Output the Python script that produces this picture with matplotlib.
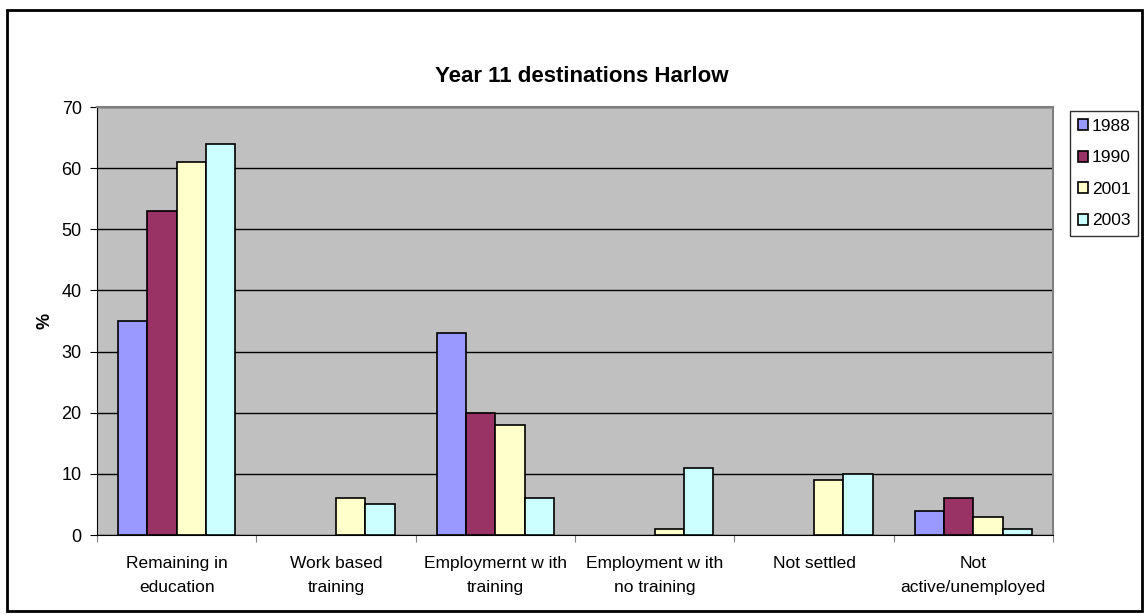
import matplotlib
matplotlib.use("Agg")
import matplotlib.pyplot as plt
from matplotlib.patches import Rectangle
import numpy as np

plt.rcParams['font.family'] = ['Liberation Sans', 'DejaVu Sans']

categories = ["Remaining in\neducation", "Work based\ntraining", "Employmernt w ith\ntraining",
              "Employment w ith\nno training", "Not settled", "Not\nactive/unemployed"]
series_names = ["1988", "1990", "2001", "2003"]
v1988 = [35, 0, 33, 0, 0, 4]
v1990 = [53, 0, 20, 0, 0, 6]
v2001 = [61, 6, 18, 1, 9, 3]
v2003 = [64, 5, 6, 11, 10, 1]
values = [v1988, v1990, v2001, v2003]
colors = ["#9999FF", "#993366", "#FFFFCC", "#CCFFFF"]
yticks = [0, 10, 20, 30, 40, 50, 60, 70]

W, H = 1148, 615
fig = plt.figure(figsize=(W / 100, H / 100), dpi=100)
ax = fig.add_axes([97 / W, 1 - 535 / H, (1053 - 97) / W, (535 - 107) / H])
ax.set_facecolor("#C0C0C0")

x = np.arange(len(categories))
bw = 0.184
handles = []
for i, (name, vals, c) in enumerate(zip(series_names, values, colors)):
    offs = (i - 1.5) * bw
    b = ax.bar(x + offs, vals, width=bw, color=c, edgecolor="black", linewidth=1.2,
               label=name, zorder=3)
    for rect, v in zip(b.patches, vals):
        if v == 0:
            rect.set_visible(False)
    handles.append(b)

ax.set_xlim(-0.5, len(categories) - 0.5)
ax.set_ylim(0, 70)
ax.set_yticks(yticks)
ax.set_yticklabels([str(t) for t in yticks], fontsize=13)
ax.yaxis.grid(True, color="black", linewidth=1.0, zorder=1)
ax.set_axisbelow(True)

ax.set_xticks(np.arange(-0.5, len(categories), 1.0))
ax.set_xticklabels([])
ax.set_xticks(x, minor=True)
ax.set_xticklabels(categories, minor=True, fontsize=12.5, linespacing=1.75)
ax.tick_params(axis='x', which='minor', length=0, pad=15)
ax.tick_params(axis='x', which='major', length=5, direction='out', color="#808080")
ax.tick_params(axis='y', length=5, direction='out', pad=6)

for s in ["top", "right"]:
    ax.spines[s].set_color("#808080")
    ax.spines[s].set_linewidth(1.5)
ax.spines["left"].set_color("black")
ax.spines["bottom"].set_color("black")

ax.set_ylabel("%", fontsize=13, fontweight="bold", labelpad=6)

fig.text(582 / W, 1 - 77 / H, "Year 11 destinations Harlow", ha="center", va="center",
         fontsize=16, fontweight="bold")

leg = fig.legend(handles=handles, labels=series_names, loc="upper left",
                 bbox_to_anchor=(1070 / W, 1 - 111 / H), frameon=True, fancybox=False,
                 fontsize=12.5, handlelength=0.6, handleheight=0.6, handletextpad=0.2,
                 labelspacing=0.95, borderpad=0.45, borderaxespad=0)
leg.get_frame().set_edgecolor("black")
leg.get_frame().set_linewidth(1.0)

fig.patches.append(Rectangle((7 / W, 1 - 611 / H), (1142 - 7) / W, (611 - 10) / H,
                             transform=fig.transFigure, fill=False, edgecolor="black",
                             linewidth=2))

fig.savefig("out.png", dpi=100)
